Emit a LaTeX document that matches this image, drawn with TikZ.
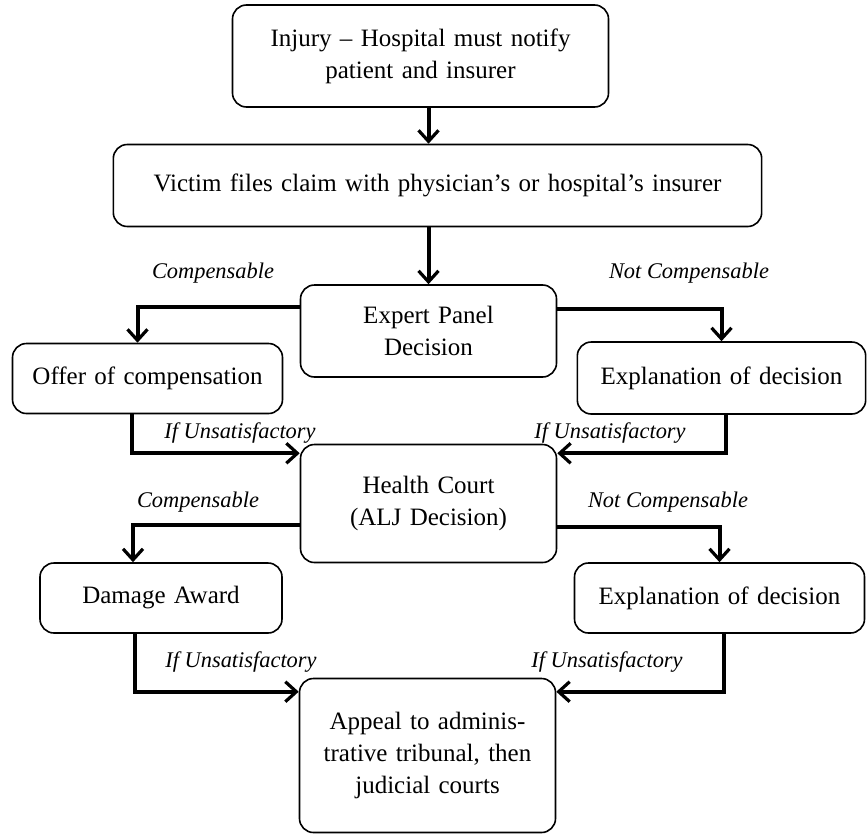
\documentclass[tikz,border=0pt]{standalone}
\usepackage{fontspec}
\setmainfont{Liberation Serif}
\usetikzlibrary{calc,arrows.meta,positioning}

\begin{document}
\begin{tikzpicture}[x=0.5pt, y=-0.5pt, font=\fontsize{12.5}{16}\selectfont]
\tikzset{>={Straight Barb[length=5.5pt, width=10pt, line width=1.6pt]}}

\tikzstyle{bubble}=[draw, text centered, rounded corners=7pt, inner sep=1ex, thick]
\tikzstyle{cr}=[line width=2pt]
\tikzstyle{lbl}=[font=\fontsize{11.2}{14}\selectfont\itshape]

\useasboundingbox (0,0) rectangle (867,835);

% top
\node(T1)[style = bubble, text width=175pt, minimum width=188pt, minimum height=51pt] at (420.5,56) {Injury -- Hospital must notify\\patient and insurer};
\node(T2)[style = bubble, text width=315pt, minimum width=323pt, minimum height=41pt] at (437.5,185.5) {Victim files claim with physician's or hospital's insurer};

% expert panel
\node(P1)[style = bubble, text width=110pt, minimum width=128pt, minimum height=46pt] at (428.5,331) {Expert Panel\\Decision};
\node(P11)[style = bubble, text width=125pt, minimum width=135pt, minimum height=35pt] at (147.5,378.5) {Offer of compensation};
\node(P12)[style = bubble, text width=135pt, minimum width=143pt, minimum height=36pt] at (721.5,378) {Explanation of decision};

% health court
\node(H1)[style = bubble, text width=110pt, minimum width=128pt, minimum height=59pt] at (428.5,503.5) {Health Court\\(ALJ Decision)};
\node(H11)[style = bubble, text width=110pt, minimum width=121pt, minimum height=35pt] at (161,598) {Damage Award};
\node(H12)[style = bubble, text width=135pt, minimum width=145pt, minimum height=35pt] at (719.5,598) {Explanation of decision};

% appeal
\node(A1)[style = bubble, text width=110pt, minimum width=128pt, minimum height=77pt] at (427.5,755.5) {Appeal to adminis-\\trative tribunal, then\\judicial courts};

% labels
\node(L1)[style = lbl] at (213,273) {Compensable};
\node(L2)[style = lbl] at (689,273) {Not Compensable};
\node(L3)[style = lbl] at (240,433) {If Unsatisfactory};
\node(L4)[style = lbl] at (610,433) {If Unsatisfactory};
\node(L5)[style = lbl] at (198,502) {Compensable};
\node(L6)[style = lbl] at (668,502) {Not Compensable};
\node(L7)[style = lbl] at (241,662) {If Unsatisfactory};
\node(L8)[style = lbl] at (607,662) {If Unsatisfactory};

% arrows
\draw[->, style = cr] (T1.south -| P1) -- (T2.north -| P1);
\draw[->, style = cr] (T2.south -| P1) -- (P1.north);

\draw[->, style = cr] ($(P1.north west)!0.24!(P1.south west)$) -| ($(P11.north)+(-10,0)$);
\draw[->, style = cr] ($(P1.north east)!0.27!(P1.south east)$) -| (P12.north);
\draw[->, style = cr] ($(P11.south)+(-16,0)$) |- ($(H1.north west)!0.08!(H1.south west)$);
\draw[->, style = cr] ($(P12.south)+(4,0)$) |- ($(H1.north east)!0.08!(H1.south east)$);

\draw[->, style = cr] ($(H1.north west)!0.68!(H1.south west)$) -| ($(H11.north)+(-28,0)$);
\draw[->, style = cr] ($(H1.north east)!0.70!(H1.south east)$) -| (H12.north);
\draw[->, style = cr] ($(H11.south)+(-26,0)$) |- ($(A1.north west)!0.09!(A1.south west)$);
\draw[->, style = cr] ($(H12.south)+(4,0)$) |- ($(A1.north east)!0.09!(A1.south east)$);

\end{tikzpicture}
\end{document}
